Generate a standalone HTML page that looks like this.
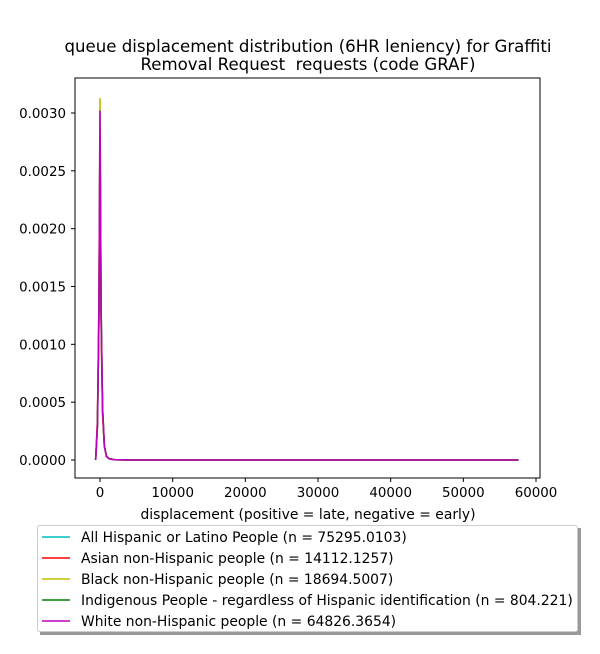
<!DOCTYPE html>
<html><head><meta charset="utf-8"><style>
body{margin:0;background:#fff;font-family:"DejaVu Sans","Liberation Sans",sans-serif}
svg text{font-family:"DejaVu Sans","Liberation Sans",sans-serif}
</style></head><body>
<svg id="c" width="600" height="650">
</svg>
<script>
const xs=[-600,-350,-150,0,150,350,600,900,1300,2000,4000,57600];
const seriesNames=["All Hispanic or Latino People (n = 75295.0103)","Asian non-Hispanic people (n = 14112.1257)","Black non-Hispanic people (n = 18694.5007)","Indigenous People - regardless of Hispanic identification (n = 804.221)","White non-Hispanic people (n = 64826.3654)"];
const colors=["#00bfbf","#ff0000","#bfbf00","#008000","#bf00bf"];
const hisp=[0,0.0003,0.0012,0.0029,0.0013,0.00045,0.00012,0.00003,0.00001,0.000003,0,0];
const asian=[0,0.00035,0.0013,0.0028,0.0012,0.0004,0.00012,0.00003,0.00001,0.000003,0,0];
const black=[0,0.0003,0.0013,0.00313,0.0013,0.00045,0.00012,0.00003,0.00001,0.000003,0,0];
const indig=[0,0.0003,0.0012,0.0028,0.0013,0.00045,0.00012,0.00003,0.00001,0.000003,0,0];
const white=[0,0.0003,0.0013,0.00302,0.0013,0.00045,0.00012,0.00003,0.00001,0.000003,0,0];
const series=[hisp,asian,black,indig,white];
const xTicks=[0,10000,20000,30000,40000,50000,60000];
const yTicks=[0,0.0005,0.001,0.0015,0.002,0.0025,0.003];
const yLabels=["0.0000","0.0005","0.0010","0.0015","0.0020","0.0025","0.0030"];
const L=75,R=540,T=78,B=478;
const X=v=>100+v*436/60000;
const Y=v=>460-v*347/0.003;
const svg=document.getElementById('c');const NS="http://www.w3.org/2000/svg";
function mk(t,a,txt){const e=document.createElementNS(NS,t);for(const k in a)e.setAttribute(k,a[k]);if(txt!=null)e.textContent=txt;svg.appendChild(e);return e;}
let e=mk('text',{x:308,y:52,'text-anchor':'middle','font-size':16.6},'queue displacement distribution (6HR leniency) for Graffiti');

e=mk('text',{x:308,y:70,'text-anchor':'middle','font-size':16.6,'xml:space':'preserve'},'Removal Request\u00a0 requests (code GRAF)');

series.forEach((s,i)=>{const p=mk('polyline',{points:xs.map((x,j)=>X(x)+','+Y(s[j])).join(' '),fill:'none',stroke:colors[i],'stroke-width':1.6});
});
e=mk('rect',{x:L,y:T,width:R-L,height:B-T,fill:'none',stroke:'#000','stroke-width':1});

xTicks.forEach(v=>{mk('line',{x1:X(v),x2:X(v),y1:B,y2:B+4,stroke:'#000'});
const t=mk('text',{x:X(v),y:B+19,'text-anchor':'middle','font-size':13.4},String(v));
});
yTicks.forEach((v,i)=>{mk('line',{x1:L-4,x2:L,y1:Y(v),y2:Y(v),stroke:'#000'});
const t=mk('text',{x:L-9,y:Y(v)+5,'text-anchor':'end','font-size':13.4},yLabels[i]);
});
e=mk('text',{x:308,y:519,'text-anchor':'middle','font-size':13.9},'displacement (positive = late, negative = early)');

e=mk('rect',{x:40,y:528,width:541,height:107,fill:'#999'});

e=mk('rect',{x:37.5,y:525.5,width:540,height:106,fill:'#fff',stroke:'#ccc',rx:2});

seriesNames.forEach((n,i)=>{const y=537+i*21;
const l=mk('line',{x1:42,x2:70,y1:y,y2:y,stroke:colors[i],'stroke-width':1.6});

const t=mk('text',{x:81,y:y+5,'font-size':13.9},n);
});
</script>
</body></html>
